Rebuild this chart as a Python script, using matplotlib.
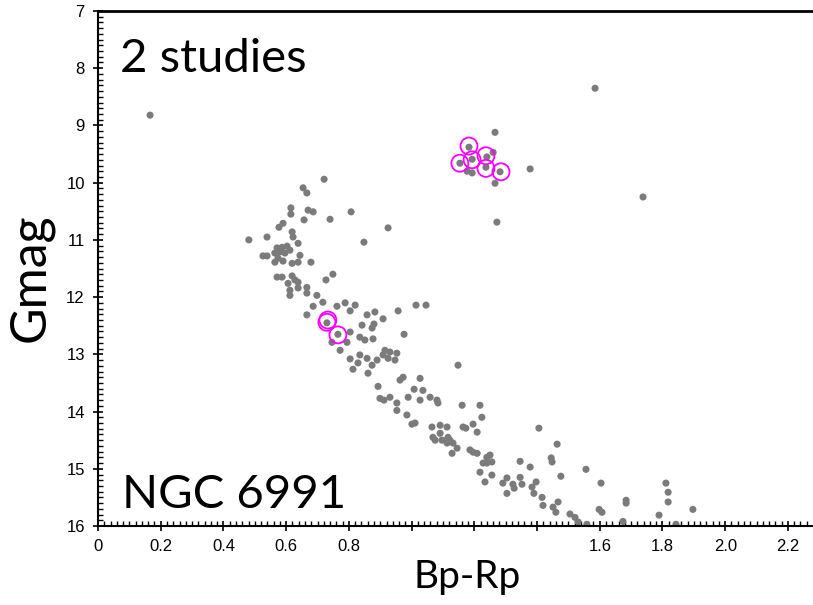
import matplotlib.pyplot as plt
from matplotlib.ticker import MultipleLocator, FixedLocator

# colour index and G magnitude of the cluster members
bp_rp = [
    0.166, 1.585, 1.738,
    # giant clump
    1.266, 1.183, 1.154, 1.193, 1.240, 1.260, 1.237, 1.177, 1.193, 1.282,
    1.266, 1.378, 1.272,
    # upper main sequence / turn-off
    0.721, 0.654, 0.666, 0.615, 0.615, 0.670, 0.686, 0.807, 0.657, 0.740,
    0.590, 0.577, 0.619, 0.622, 0.925, 0.481, 0.539, 0.638, 0.848, 0.571,
    0.587, 0.603, 0.612, 0.564, 0.580, 0.596, 0.526, 0.539, 0.644, 0.574,
    0.564, 0.590, 0.619, 0.638, 0.679, 0.571, 0.587, 0.619, 0.628, 0.606,
    0.638, 0.749, 0.727, 0.612, 0.638, 0.666, 0.612, 0.666, 0.698,
    # middle main sequence
    0.717, 0.686, 0.666, 0.762, 0.788, 0.820, 0.804, 0.730, 0.765, 0.746,
    0.772, 0.794, 0.804, 0.842, 0.858, 0.883, 0.909, 0.874, 0.880, 0.835,
    0.851, 0.877, 0.957, 1.014, 1.046, 0.976, 0.915, 0.909, 0.931, 0.953,
    0.947, 0.925, 0.835, 0.858, 0.829, 0.874, 0.890, 0.804, 0.813, 0.861,
    0.963, 0.973, 1.027, 0.893, 1.008, 1.036, 0.989, 0.899, 0.931, 0.912,
    1.027, 1.059, 1.081, 1.084, 0.953, 0.953, 1.148, 0.985, 1.011, 1.001,
    1.161, 1.218, 1.224, 1.065, 1.091, 1.113, 1.068, 1.091, 1.097, 1.116,
    1.122, 1.132, 1.113, 1.164, 1.173, 1.196, 1.209, 1.075, 1.145, 1.129,
    1.186, 1.196, 1.209, 1.240, 1.250, 1.228, 1.240, 1.256, 1.218, 1.256,
    1.234,
    # lower main sequence
    1.406, 1.464, 1.346, 1.378, 1.445, 1.448, 1.556, 1.476, 1.291, 1.304,
    1.323, 1.327, 1.304, 1.346, 1.352, 1.384, 1.397, 1.390, 1.416, 1.419,
    1.451, 1.467, 1.460, 1.604, 1.505, 1.521, 1.531, 1.559, 1.598, 1.607,
    1.684, 1.684, 1.674, 1.789, 1.811, 1.818, 1.818, 1.843, 1.897,
]
gmag = [
    8.82, 8.35, 10.25,
    9.12, 9.38, 9.66, 9.59, 9.55, 9.47, 9.73, 9.80, 9.83, 9.81,
    10.01, 9.76, 10.69,
    9.94, 10.09, 10.18, 10.44, 10.55, 10.48, 10.51, 10.51, 10.65, 10.64,
    10.71, 10.78, 10.86, 10.95, 10.79, 11.00, 10.95, 11.06, 11.04, 11.14,
    11.13, 11.11, 11.18, 11.23, 11.21, 11.23, 11.28, 11.28, 11.27, 11.32,
    11.39, 11.37, 11.41, 11.39, 11.39, 11.65, 11.65, 11.63, 11.70, 11.76,
    11.74, 11.60, 11.70, 11.88, 11.84, 11.83, 11.97, 11.93, 11.97,
    12.09, 12.16, 12.31, 12.16, 12.10, 12.14, 12.24, 12.45, 12.65, 12.79,
    12.93, 12.79, 12.61, 12.49, 12.31, 12.26, 12.38, 12.54, 12.47, 12.70,
    12.75, 12.73, 12.24, 12.14, 12.14, 12.65, 12.93, 13.01, 12.96, 12.98,
    13.10, 13.07, 13.01, 13.07, 13.15, 13.19, 13.10, 13.08, 13.26, 13.33,
    13.45, 13.40, 13.42, 13.56, 13.61, 13.63, 13.75, 13.77, 13.75, 13.80,
    13.80, 13.75, 13.80, 13.85, 13.85, 13.98, 13.19, 14.06, 14.20, 14.22,
    13.89, 13.89, 14.10, 14.27, 14.24, 14.27, 14.45, 14.38, 14.50, 14.45,
    14.50, 14.55, 14.55, 14.27, 14.29, 14.22, 14.36, 14.50, 14.64, 14.73,
    14.67, 14.71, 14.73, 14.80, 14.76, 14.90, 14.90, 14.88, 15.06, 15.11,
    15.23,
    14.29, 14.57, 14.87, 14.97, 14.81, 14.88, 15.01, 15.13, 15.25, 15.16,
    15.27, 15.34, 15.43, 15.15, 15.27, 15.32, 15.23, 15.43, 15.50, 15.64,
    15.67, 15.58, 15.76, 15.25, 15.79, 15.85, 15.93, 15.97, 15.71, 15.76,
    15.55, 15.60, 15.92, 15.81, 15.25, 15.41, 15.58, 15.97, 15.71,
]

# stars flagged by both studies (magenta rings)
ring_bp_rp = [1.183, 1.154, 1.193, 1.237, 1.237, 1.285, 0.730, 0.733, 0.765]
ring_gmag = [9.36, 9.66, 9.60, 9.53, 9.75, 9.81, 12.44, 12.40, 12.66]

x_ticks = [0.0, 0.2, 0.4, 0.6, 0.8, 1.0, 1.2, 1.4, 1.6, 1.8, 2.0, 2.2]
x_labels = ["0", "0.2", "0.4", "0.6", "0.8", "", "", "", "1.6", "1.8", "2.0", "2.2"]
y_ticks = [7, 8, 9, 10, 11, 12, 13, 14, 15, 16]

title_font = "Lato"
tick_font = "Liberation Sans"

fig = plt.figure(figsize=(8.13, 6.05), dpi=100)
ax = fig.add_axes([98 / 813, 1 - 526 / 605, 1 - 98 / 813, 515 / 605])

ax.scatter(bp_rp, gmag, s=26, color="#7b7b7b", edgecolors="none", zorder=2)
ax.scatter(ring_bp_rp, ring_gmag, s=150, facecolors="none",
           edgecolors="#ff00ff", linewidths=1.3, zorder=3)

ax.set_xlim(0, (813 - 98) / 313.6)
ax.set_ylim(16, 7)

ax.xaxis.set_major_locator(FixedLocator(x_ticks))
ax.set_xticklabels(x_labels)
ax.xaxis.set_minor_locator(MultipleLocator(0.02))
ax.set_yticks(y_ticks)
ax.yaxis.set_minor_locator(MultipleLocator(0.1))

ax.tick_params(which="major", direction="inout", length=7, width=1.2,
               labelsize=12, pad=6)
ax.tick_params(which="minor", direction="in", length=3.5, width=1.0)
for lab in ax.get_xticklabels() + ax.get_yticklabels():
    lab.set_family(tick_font)

ax.spines["right"].set_visible(False)
ax.spines["top"].set_linewidth(2)
ax.spines["left"].set_linewidth(1.5)
ax.spines["bottom"].set_linewidth(1.5)

ax.text(0.07, 8.07, "2 studies", fontsize=34, family=title_font,
        va="baseline", ha="left")
ax.text(0.077, 15.69, "NGC 6991", fontsize=34, family=title_font,
        va="baseline", ha="left")

fig.text(467 / 813, 1 - 588 / 605, "Bp-Rp", fontsize=28, family=title_font,
         ha="center", va="baseline")
fig.text(31 / 813, 1 - 278 / 605, "Gmag", fontsize=36, family=title_font,
         rotation=90, ha="center", va="center")

fig.savefig("out.png", dpi=100)
